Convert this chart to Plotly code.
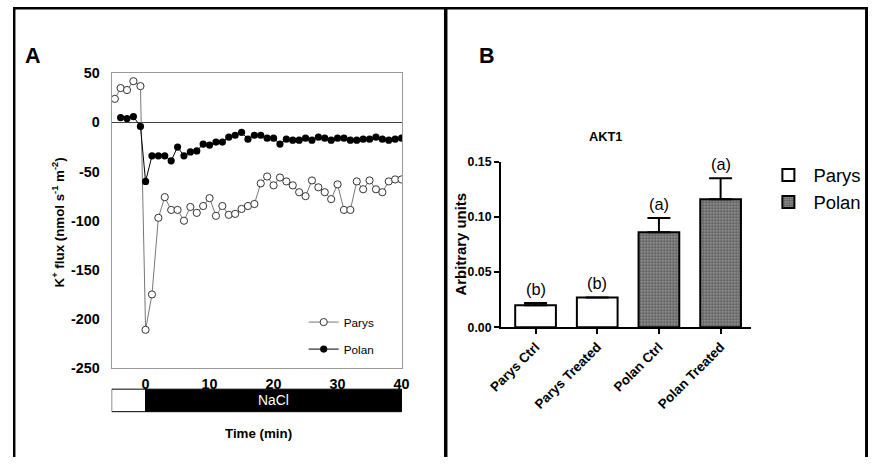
import plotly.graph_objects as go

# The page is captured with an 8px body margin and then fitted to 875x465,
# so reference pixel positions are converted into figure fractions here.
W, H = 875, 465
SX, SY = 875 / 891, 465 / 481
def px(x): return (x / SX - 8) / W
def py(y): return 1 - (y / SY - 8) / H
FS = 1.025  # font compensation

FONT = "Arial, Liberation Sans, sans-serif"

# ---------------- Panel A data ----------------
time_parys = [-4.8, -3.9, -2.9, -1.9, -0.8,
              0, 1, 2, 3, 4, 5, 6, 7, 8, 9, 10, 11, 12, 13, 14, 15, 16, 17, 18, 19, 20,
              21, 22, 23, 24, 25, 26, 27, 28, 29, 30, 31, 32, 33, 34, 35, 36, 37, 38, 39, 40]
flux_parys = [24, 35, 33, 42, 37,
              -211, -175, -97, -76, -89, -89, -100, -86, -92, -85, -77, -95, -85, -94, -93,
              -88, -85, -83, -62, -55, -64, -56, -60, -64, -71, -75, -59, -66, -71, -78,
              -63, -89, -89, -60, -68, -59, -68, -71, -60, -58, -58]

time_polan = [-3.9, -2.9, -1.9, -0.8,
              0, 1, 2, 3, 4, 5, 6, 7, 8, 9, 10, 11, 12, 13, 14, 15, 16, 17, 18, 19, 20,
              21, 22, 23, 24, 25, 26, 27, 28, 29, 30, 31, 32, 33, 34, 35, 36, 37, 38, 39, 40]
flux_polan = [5, 4, 6, -4,
              -60, -34, -34, -34, -39, -25, -34, -30, -29, -22, -23, -20, -20, -15, -13,
              -10, -17, -13, -13, -16, -16, -22, -17, -18, -18, -16, -18, -15, -16, -18,
              -16, -16, -18, -18, -17, -17, -15, -17, -18, -17, -16]

a_yticks = [50, 0, -50, -100, -150, -200, -250]
a_xticks = [0, 10, 20, 30, 40]

# ---------------- Panel B data ----------------
categories = ["Parys Ctrl", "Parys Treated", "Polan Ctrl", "Polan Treated"]
means = [0.020, 0.027, 0.086, 0.116]
sems = [0.002, 0.0, 0.013, 0.019]
letters = ["(b)", "(b)", "(a)", "(a)"]
b_yticks = [0.0, 0.05, 0.10, 0.15]
b_yticklabels = ["0.00", "0.05", "0.10", "0.15"]

fig = go.Figure()

fig.add_trace(go.Scatter(
    x=time_parys, y=flux_parys, name="Parys", mode="lines+markers",
    line=dict(color="#777777", width=1),
    marker=dict(symbol="circle", size=7.2, color="white", line=dict(color="#333333", width=1)),
    xaxis="x", yaxis="y", legend="legend", legendgroup="p1"))
fig.add_trace(go.Scatter(
    x=time_polan, y=flux_polan, name="Polan", mode="lines+markers",
    line=dict(color="black", width=1),
    marker=dict(symbol="circle", size=7.2, color="black"),
    xaxis="x", yaxis="y", legend="legend", legendgroup="p2"))

fig.add_trace(go.Bar(
    x=categories[:2], y=means[:2], name="Parys", width=0.66,
    marker=dict(color="white", line=dict(color="black", width=2)),
    error_y=dict(type="data", symmetric=False, array=sems[:2], arrayminus=[0, 0],
                 color="black", thickness=2, width=11.5),
    xaxis="x2", yaxis="y2", legend="legend2"))
fig.add_trace(go.Bar(
    x=categories[2:], y=means[2:], name="Polan", width=0.66,
    marker=dict(color="white", line=dict(color="black", width=2),
                pattern=dict(shape=".", size=3, solidity=0.5, fgcolor="#111111", bgcolor="#9a9a9a")),
    error_y=dict(type="data", symmetric=False, array=sems[2:], arrayminus=[0, 0],
                 color="black", thickness=2, width=11.5),
    xaxis="x2", yaxis="y2", legend="legend2"))

annotations = []
for c, m, s, t in zip(categories, means, sems, letters):
    annotations.append(dict(x=c, y=m + s, xref="x2", yref="y2", text=t, showarrow=False,
                            xanchor="center", yanchor="bottom", yshift=3,
                            font=dict(family=FONT, size=16 * FS, color="black")))

def pa(x, y, text, size, bold=False, color="black", angle=0):
    annotations.append(dict(x=px(x), y=py(y), xref="paper", yref="paper", showarrow=False,
                            text=("<b>%s</b>" % text) if bold else text, textangle=angle,
                            xanchor="center", yanchor="middle",
                            font=dict(family=FONT, size=size * FS, color=color)))

pa(28, 57, "A", 21, bold=True)
pa(484, 57, "B", 21, bold=True)
pa(54, 223, "K<sup>+</sup> flux (nmol s<sup>-1</sup> m<sup>-2</sup>)", 13, bold=True, angle=-90)
pa(255, 434, "Time (min)", 13, bold=True)
pa(603, 137, "AKT1", 12.5, bold=True)
pa(458, 245, "Arbitrary units", 14.5, bold=True, angle=-90)
annotations.append(dict(x=20, y=py(400.5), xref="x", yref="paper", text="NaCl", showarrow=False,
                        xanchor="center", yanchor="middle",
                        font=dict(family=FONT, size=13.5 * FS, color="white")))

shapes = [
    # NaCl treatment bar
    dict(type="rect", xref="x", yref="paper", x0=-5.3, x1=0, y0=py(412), y1=py(389.5),
         fillcolor="white", line=dict(color="black", width=1)),
    dict(type="rect", xref="x", yref="paper", x0=0, x1=40, y0=py(412), y1=py(389.5),
         fillcolor="black", line=dict(color="black", width=1)),
    # outer frame (clamped to the drawable area)
    dict(type="rect", xref="paper", yref="paper", x0=0, x1=1, y0=1 - 2.5 / H, y1=1,
         fillcolor="black", line=dict(width=0)),
    dict(type="rect", xref="paper", yref="paper", x0=0, x1=2.5 / W, y0=0, y1=1,
         fillcolor="black", line=dict(width=0)),
    dict(type="rect", xref="paper", yref="paper", x0=px(441), x1=px(444.5), y0=0, y1=1,
         fillcolor="black", line=dict(width=0)),
    dict(type="rect", xref="paper", yref="paper", x0=1 - 3 / W, x1=1, y0=0, y1=1,
         fillcolor="black", line=dict(width=0)),
]

fig.update_layout(
    width=W, height=H, margin=dict(l=0, r=0, t=0, b=0),
    paper_bgcolor="white", plot_bgcolor="white",
    barmode="overlay",
    font=dict(family=FONT, color="black"),
    xaxis=dict(domain=[px(107), px(399)], range=[-5.3, 40.1], anchor="y",
               tickvals=a_xticks, ticktext=["<b>%d</b>" % v for v in a_xticks],
               tickfont=dict(size=14 * FS, family=FONT), ticks="", ticklabelstandoff=3,
               showline=True, mirror=True, linecolor="#999999", linewidth=1,
               showgrid=False, zeroline=False),
    yaxis=dict(domain=[py(368.5), py(73.5)], range=[-250, 50.5], anchor="x",
               tickvals=a_yticks, ticktext=["<b>%d</b>" % v for v in a_yticks],
               tickfont=dict(size=14 * FS, family=FONT), ticks="", ticklabelstandoff=8,
               showline=True, mirror=True, linecolor="#999999", linewidth=1,
               showgrid=False, zeroline=True, zerolinecolor="#444444", zerolinewidth=1),
    xaxis2=dict(domain=[px(498), px(750)], range=[-0.565, 3.5], anchor="y2",
                type="category", categoryorder="array", categoryarray=categories,
                tickvals=categories, ticktext=["<b>%s</b>" % c for c in categories],
                tickangle=-45, tickfont=dict(size=13 * FS, family=FONT),
                ticks="outside", ticklen=5, tickcolor="black", tickwidth=1.5,
                showline=True, linecolor="black", linewidth=1.5, showgrid=False, zeroline=False),
    yaxis2=dict(domain=[py(327.7), py(162.3)], range=[0, 0.15], anchor="x2",
                tickvals=b_yticks, ticktext=["<b>%s</b>" % t for t in b_yticklabels],
                tickfont=dict(size=12 * FS, family=FONT),
                ticks="outside", ticklen=5, tickcolor="black", tickwidth=1.5,
                showline=True, linecolor="black", linewidth=1.5, showgrid=False, zeroline=False),
    legend=dict(x=px(300), y=py(308), xanchor="left", yanchor="top",
                font=dict(size=11.5 * FS, family=FONT), bgcolor="rgba(0,0,0,0)",
                tracegroupgap=8, traceorder="grouped", itemwidth=30),
    legend2=dict(x=px(762), y=py(157), xanchor="left", yanchor="top",
                 font=dict(size=18 * FS, family=FONT), bgcolor="rgba(0,0,0,0)",
                 itemwidth=40),
    annotations=annotations, shapes=shapes,
)

fig.write_html("out.html")
